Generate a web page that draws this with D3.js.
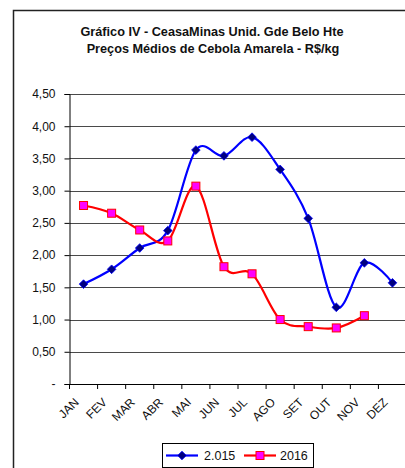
<!DOCTYPE html>
<html>
<head>
<meta charset="utf-8">
<script src="https://cdn.jsdelivr.net/npm/d3@7"></script>
<style>
  html, body { margin: 0; padding: 0; background: #fff; }
  svg { display: block; font-family: "Liberation Sans", Arial, sans-serif; }
</style>
</head>
<body>
<svg id="chart" width="405" height="468"></svg>
<script>
// Monthly average prices of yellow onion (R$/kg)
const months = ["JAN", "FEV", "MAR", "ABR", "MAI", "JUN", "JUL", "AGO", "SET", "OUT", "NOV", "DEZ"];
const prices2015 = [1.55, 1.78, 2.11, 2.38, 3.63, 3.54, 3.83, 3.33, 2.57, 1.19, 1.88, 1.57];
const prices2016 = [2.77, 2.65, 2.39, 2.22, 3.07, 1.82, 1.71, 1.00, 0.89, 0.87, 1.06];
const yTicks = [0, 0.5, 1, 1.5, 2, 2.5, 3, 3.5, 4, 4.5];
const seriesNames = ["2.015", "2016"];

const svg = d3.select("#chart");

// outer frame (left and top edges)
svg.append("path")
  .attr("d", "M13.5,468 V10.5 H405")
  .attr("fill", "none").attr("stroke", "#222").attr("stroke-width", 1.5);

// title
const title = svg.append("text")
  .attr("text-anchor", "middle")
  .attr("font-weight", "bold")
  .attr("font-size", 12.7)
  .attr("fill", "#111");
title.append("tspan").attr("x", 212).attr("y", 36).text("Gráfico IV - CeasaMinas Unid. Gde Belo Hte");
title.append("tspan").attr("x", 213).attr("y", 53).text("Preços Médios de Cebola Amarela - R$/kg");

const plot = { left: 69.5, right: 406.5, top: 94, bottom: 384 };

const x = d3.scaleBand().domain(months).range([plot.left, plot.right]);
const y = d3.scaleLinear().domain([0, 4.5]).range([plot.bottom, plot.top]);

// horizontal gridlines
svg.append("g").selectAll("line")
  .data(yTicks.filter(d => d > 0))
  .join("line")
  .attr("x1", plot.left).attr("x2", plot.right)
  .attr("y1", d => Math.round(y(d)) + 0.5).attr("y2", d => Math.round(y(d)) + 0.5)
  .attr("stroke", "#4a4a4a").attr("stroke-width", 1);

// y axis
const fmt = d => d === 0 ? "-" : d3.format(".2f")(d).replace(".", ",");
const yAxis = svg.append("g")
  .attr("transform", `translate(${plot.left},0)`)
  .call(d3.axisLeft(y).tickValues(yTicks).tickFormat(fmt).tickSize(5).tickPadding(9));
yAxis.select(".domain").attr("stroke", "#000");
yAxis.selectAll(".tick line").attr("stroke", "#000");
yAxis.selectAll(".tick text").attr("font-size", 12).attr("fill", "#111")
  .attr("font-family", "Liberation Sans, Arial, sans-serif");

// x axis: ticks at category boundaries
const xAxisG = svg.append("g").attr("transform", `translate(0,${plot.bottom})`);
xAxisG.append("line")
  .attr("x1", plot.left).attr("x2", plot.right)
  .attr("y1", 0.5).attr("y2", 0.5).attr("stroke", "#000");
xAxisG.selectAll("line.tk")
  .data(months.concat(["_end"]))
  .join("line").attr("class", "tk")
  .attr("x1", (d, i) => x.step() * i + plot.left)
  .attr("x2", (d, i) => x.step() * i + plot.left)
  .attr("y1", 0).attr("y2", 5)
  .attr("stroke", "#000");
xAxisG.selectAll("text")
  .data(months)
  .join("text")
  .attr("transform", d => `translate(${x(d) + x.bandwidth() / 2 - 4},${19}) rotate(-45)`)
  .attr("text-anchor", "end")
  .attr("font-size", 12)
  .attr("fill", "#111")
  .text(d => d);

// series
const cx = (d, i) => x(months[i]) + x.bandwidth() / 2;
const line = d3.line()
  .x(cx)
  .y(d => y(d))
  .curve(d3.curveCatmullRom.alpha(0));

svg.append("path").datum(prices2015)
  .attr("d", line)
  .attr("fill", "none").attr("stroke", "#0000ff").attr("stroke-width", 2.2);

svg.append("path").datum(prices2016)
  .attr("d", line)
  .attr("fill", "none").attr("stroke", "#ff0000").attr("stroke-width", 2.2);

const diamond = d3.symbol().type(d3.symbolDiamond2).size(48);
svg.append("g").selectAll("path")
  .data(prices2015)
  .join("path")
  .attr("transform", (d, i) => `translate(${cx(d, i)},${y(d)})`)
  .attr("d", diamond)
  .attr("fill", "#000080").attr("stroke", "#0000ff").attr("stroke-width", 0.8);

svg.append("g").selectAll("rect")
  .data(prices2016)
  .join("rect")
  .attr("x", (d, i) => cx(d, i) - 4).attr("y", d => y(d) - 4)
  .attr("width", 8).attr("height", 8)
  .attr("fill", "#ff00ff").attr("stroke", "#ff0000").attr("stroke-width", 1);

// legend
const lg = svg.append("g");
lg.append("rect")
  .attr("x", 162.5).attr("y", 443.5).attr("width", 151).attr("height", 24)
  .attr("fill", "#fff").attr("stroke", "#000").attr("stroke-width", 1);
const ly = 455.5;
lg.append("line").attr("x1", 166).attr("x2", 198).attr("y1", ly).attr("y2", ly)
  .attr("stroke", "#0000ff").attr("stroke-width", 2.2);
lg.append("path").attr("transform", `translate(182,${ly})`).attr("d", diamond)
  .attr("fill", "#000080").attr("stroke", "#0000ff").attr("stroke-width", 0.8);
lg.append("text").attr("x", 204).attr("y", ly + 4.5).attr("font-size", 12.5).attr("fill", "#111").text(seriesNames[0]);
lg.append("line").attr("x1", 244).attr("x2", 276).attr("y1", ly).attr("y2", ly)
  .attr("stroke", "#ff0000").attr("stroke-width", 2.2);
lg.append("rect").attr("x", 256).attr("y", ly - 4).attr("width", 8).attr("height", 8)
  .attr("fill", "#ff00ff").attr("stroke", "#ff0000").attr("stroke-width", 1);
lg.append("text").attr("x", 280).attr("y", ly + 4.5).attr("font-size", 12.5).attr("fill", "#111").text(seriesNames[1]);
</script>
</body>
</html>
